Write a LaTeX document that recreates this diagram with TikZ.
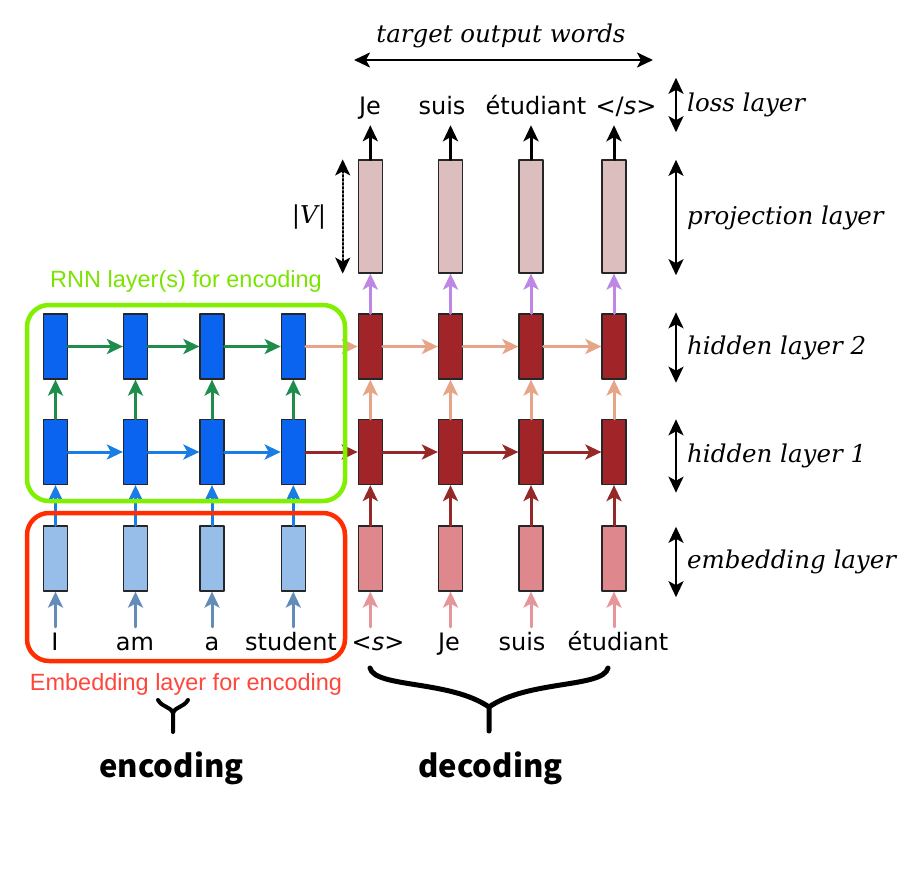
\documentclass[tikz,border=0pt]{standalone}
\usepackage{fontspec}
\usepackage{xcolor}
\usepackage{tikz}
\usetikzlibrary{arrows.meta,positioning}
\newfontfamily\wordfont{DejaVu Sans}
\newfontfamily\layerfont{DejaVu Serif}
\newfontfamily\notefont{Liberation Sans}
\newfontfamily\krfont{Noto Sans CJK KR}
\definecolor{encHid}{RGB}{10,100,240}
\definecolor{encEmb}{RGB}{150,190,232}
\definecolor{decHid}{RGB}{160,36,40}
\definecolor{decEmb}{RGB}{222,135,140}
\definecolor{projBox}{RGB}{220,190,190}
\definecolor{encIn}{RGB}{100,140,185}
\definecolor{encUp}{RGB}{25,125,230}
\definecolor{encTop}{RGB}{30,140,75}
\definecolor{decIn}{RGB}{230,150,155}
\definecolor{decDark}{RGB}{150,40,40}
\definecolor{decLight}{RGB}{230,165,135}
\definecolor{projUp}{RGB}{190,135,230}
\definecolor{rnnGreen}{RGB}{128,240,0}
\definecolor{embRed}{RGB}{255,45,0}
\definecolor{embText}{RGB}{255,70,60}
\tikzset{
  cell/.style={draw=black!85,line width=1.2pt,minimum width=24pt,minimum height=65pt,inner sep=0pt},
  projcell/.style={cell,fill=projBox,minimum height=113pt},
  word/.style={font=\wordfont\fontsize{24}{28}\selectfont,text height=17pt,text depth=5pt,inner sep=1pt},
  layer/.style={font=\layerfont\itshape\fontsize{24.5}{28}\selectfont,anchor=west,inner sep=0pt},
  link/.style={->,line width=3pt},
  span/.style={<->,line width=2.5pt,shorten <=0pt,shorten >=0pt},
}
\begin{document}
\begin{tikzpicture}[x=1pt,y=-1pt,line cap=round,line join=round,
  >={Stealth[length=16pt,width=15pt,inset=4pt]}]
\useasboundingbox (0,0) rectangle (908,879);
% encoder boxes
\node[cell,fill=encEmb] (eE1) at (55.5,558.5) {}; \node[cell,fill=encEmb] (eE2) at (135.5,558.5) {};
\node[cell,fill=encEmb] (eE3) at (212,558.5) {}; \node[cell,fill=encEmb] (eE4) at (293.3,558.5) {};
\node[cell,fill=encHid] (eA1) at (55.5,452) {}; \node[cell,fill=encHid] (eA2) at (135.5,452) {};
\node[cell,fill=encHid] (eA3) at (212,452) {}; \node[cell,fill=encHid] (eA4) at (293.3,452) {};
\node[cell,fill=encHid] (eB1) at (55.5,346.5) {}; \node[cell,fill=encHid] (eB2) at (135.5,346.5) {};
\node[cell,fill=encHid] (eB3) at (212,346.5) {}; \node[cell,fill=encHid] (eB4) at (293.3,346.5) {};
% decoder boxes
\node[cell,fill=decEmb] (dE1) at (370.3,558.5) {}; \node[cell,fill=decEmb] (dE2) at (450.5,558.5) {};
\node[cell,fill=decEmb] (dE3) at (531,558.5) {}; \node[cell,fill=decEmb] (dE4) at (614,558.5) {};
\node[cell,fill=decHid] (dA1) at (370.3,452) {}; \node[cell,fill=decHid] (dA2) at (450.5,452) {};
\node[cell,fill=decHid] (dA3) at (531,452) {}; \node[cell,fill=decHid] (dA4) at (614,452) {};
\node[cell,fill=decHid] (dB1) at (370.3,346.5) {}; \node[cell,fill=decHid] (dB2) at (450.5,346.5) {};
\node[cell,fill=decHid] (dB3) at (531,346.5) {}; \node[cell,fill=decHid] (dB4) at (614,346.5) {};
\node[projcell] (dP1) at (370.3,216.5) {}; \node[projcell] (dP2) at (450.5,216.5) {};
\node[projcell] (dP3) at (531,216.5) {}; \node[projcell] (dP4) at (614,216.5) {};
% words
\node[word] (wI) at (55,644) {I}; \node[word] (wam) at (135,644) {am};
\node[word] (wa) at (212,644) {a}; \node[word] (wstudent) at (291,644) {student};
\node[word] (wS) at (378,644) {<\textit{s}>}; \node[word] (wJe) at (449,644) {Je};
\node[word] (wsuis) at (522,644) {suis}; \node[word] (wetud) at (618,644) {étudiant};
\node[word] (oJe) at (370,108) {Je}; \node[word] (osuis) at (442,108) {suis};
\node[word] (oetud) at (536,108) {étudiant}; \node[word] (oEnd) at (626,108) {</\textit{s}>};
% input arrows
\draw[link,encIn,shorten <=5pt] (wI.north -| eE1) -- (eE1);
\draw[link,encIn,shorten <=5pt] (wam.north -| eE2) -- (eE2);
\draw[link,encIn,shorten <=5pt] (wa.north -| eE3) -- (eE3);
\draw[link,encIn,shorten <=5pt] (wstudent.north -| eE4) -- (eE4);
\draw[link,decIn,shorten <=5pt] (wS.north -| dE1) -- (dE1);
\draw[link,decIn,shorten <=5pt] (wJe.north -| dE2) -- (dE2);
\draw[link,decIn,shorten <=5pt] (wsuis.north -| dE3) -- (dE3);
\draw[link,decIn,shorten <=5pt] (wetud.north -| dE4) -- (dE4);
% encoder links
\draw[link,encUp] (eE1) -- (eA1); \draw[link,encUp] (eE2) -- (eA2);
\draw[link,encUp] (eE3) -- (eA3); \draw[link,encUp] (eE4) -- (eA4);
\draw[link,encTop] (eA1) -- (eB1); \draw[link,encTop] (eA2) -- (eB2);
\draw[link,encTop] (eA3) -- (eB3); \draw[link,encTop] (eA4) -- (eB4);
\draw[link,encUp] (eA1) -- (eA2); \draw[link,encUp] (eA2) -- (eA3); \draw[link,encUp] (eA3) -- (eA4);
\draw[link,encTop] (eB1) -- (eB2); \draw[link,encTop] (eB2) -- (eB3); \draw[link,encTop] (eB3) -- (eB4);
% decoder links
\draw[link,decDark] (eA4) -- (dA1); \draw[link,decLight] (eB4) -- (dB1);
\draw[link,decDark] (dE1) -- (dA1); \draw[link,decDark] (dE2) -- (dA2);
\draw[link,decDark] (dE3) -- (dA3); \draw[link,decDark] (dE4) -- (dA4);
\draw[link,decLight] (dA1) -- (dB1); \draw[link,decLight] (dA2) -- (dB2);
\draw[link,decLight] (dA3) -- (dB3); \draw[link,decLight] (dA4) -- (dB4);
\draw[link,decDark] (dA1) -- (dA2); \draw[link,decDark] (dA2) -- (dA3); \draw[link,decDark] (dA3) -- (dA4);
\draw[link,decLight] (dB1) -- (dB2); \draw[link,decLight] (dB2) -- (dB3); \draw[link,decLight] (dB3) -- (dB4);
\draw[link,projUp] (dB1) -- (dP1); \draw[link,projUp] (dB2) -- (dP2);
\draw[link,projUp] (dB3) -- (dP3); \draw[link,projUp] (dB4) -- (dP4);
% output arrows
\draw[link,black,shorten >=5pt] (dP1) -- (oJe.south -| dP1);
\draw[link,black,shorten >=5pt] (dP2) -- (osuis.south -| dP2);
\draw[link,black,shorten >=5pt] (dP3) -- (oetud.south -| dP3);
\draw[link,black,shorten >=5pt] (dP4) -- (oEnd.south -| dP4);
% layer labels on the right
\node[layer,minimum height=54pt] (lLoss) at (687,105) {loss layer};
\node[layer,minimum height=115pt] (lProj) at (687,217.5) {projection layer};
\node[layer,minimum height=70pt] (lHid2) at (687,347.5) {hidden layer 2};
\node[layer,minimum height=73pt] (lHid1) at (687,456) {hidden layer 1};
\node[layer,minimum height=70pt] (lEmb) at (687,562) {embedding layer};
\draw[span] ([xshift=-11pt]lLoss.north west) -- ([xshift=-11pt]lLoss.south west);
\draw[span] ([xshift=-11pt]lProj.north west) -- ([xshift=-11pt]lProj.south west);
\draw[span] ([xshift=-11pt]lHid2.north west) -- ([xshift=-11pt]lHid2.south west);
\draw[span] ([xshift=-11pt]lHid1.north west) -- ([xshift=-11pt]lHid1.south west);
\draw[span] ([xshift=-11pt]lEmb.north west) -- ([xshift=-11pt]lEmb.south west);
% target words and vocabulary size
\node[layer,anchor=center] (target) at (501,36) {target output words};
\coordinate (tL) at (354,60); \coordinate (tR) at (653,60);
\draw[span] (tL) -- (tR);
\node[layer,anchor=center] (vocab) at (309,217) {|V|};
\draw[<->,line width=2pt,dotted] ([xshift=-15pt]dP1.north west) -- ([xshift=-15pt]dP1.south west);
% frames
\draw[rnnGreen,line width=4.5pt,rounded corners=22pt] (27,305) rectangle (345,501);
\draw[embRed,line width=4.5pt,rounded corners=22pt] (27,513) rectangle (345,661);
\node[font=\notefont\fontsize{23.5}{27}\selectfont,text=rnnGreen!95!black] (rnnNote) at (186,281) {RNN layer(s) for encoding};
\node[font=\notefont\fontsize{23.5}{27}\selectfont,text=embText] (embNote) at (186,684) {Embedding layer for encoding};
% braces
\draw[line width=4pt] (158,700) .. controls (163,708) and (170,706) .. (173,713) -- (173,732);
\draw[line width=4pt] (188,700) .. controls (183,708) and (176,706) .. (173,713);
\draw[line width=5pt] (370,668) .. controls (375,688) and (450,680) .. (489,707) -- (489,731);
\draw[line width=5pt] (608,668) .. controls (603,688) and (528,680) .. (489,707);
\node[font=\krfont\bfseries\fontsize{31}{35}\selectfont,anchor=base] (encLab) at (171.5,777) {encoding};
\node[font=\krfont\bfseries\fontsize{31}{35}\selectfont,anchor=base] (decLab) at (490.5,777) {decoding};
\end{tikzpicture}
\end{document}
